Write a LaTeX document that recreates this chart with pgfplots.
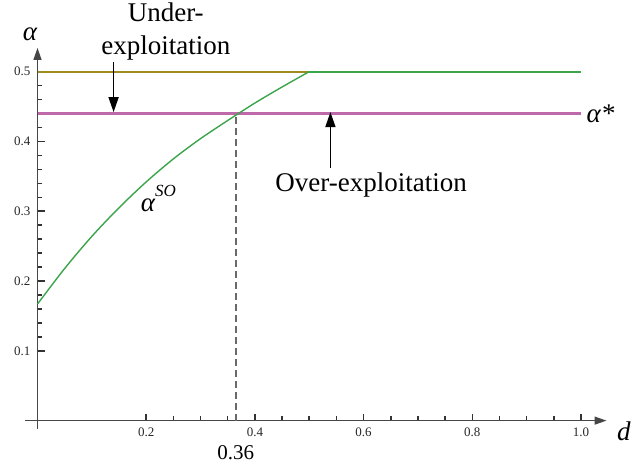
\documentclass[border=0pt]{standalone}
\usepackage{pgfplots}
\pgfplotsset{compat=1.18}
\usepackage{fontspec}
\setmainfont{Liberation Serif}
\usetikzlibrary{arrows.meta}
\definecolor{lineOlive}{RGB}{160,140,30}
\definecolor{linePink}{RGB}{190,105,170}
\definecolor{lineGreen}{RGB}{60,165,75}
\definecolor{axisgray}{RGB}{70,70,70}
\definecolor{dashgray}{RGB}{105,105,105}
\begin{document}
\begin{tikzpicture}
\useasboundingbox (-25pt,-38pt) rectangle (606pt,429pt);
\begin{axis}[
 at={(0pt,0pt)}, anchor=south west,
 scale only axis, width=581.5pt, height=381.1pt,
 axis lines=middle,
 xmin=-0.023, xmax=1.047, ymin=-0.012, ymax=0.534,
 axis line style={axisgray, line width=1.2pt},
 x axis line style={-{Triangle[length=12pt,width=8pt]}},
 y axis line style={-{Triangle[length=12pt,width=8pt]}},
 xtick={0.2,0.4,0.6,0.8,1.0},
 ytick={0.1,0.2,0.3,0.4,0.5},
 minor x tick num=3, minor y tick num=4,
 tick align=center,
 major tick length=7pt, minor tick length=4.5pt,
 every tick/.style={draw=black!80, line width=1.5pt},
 every major x tick/.append style={yshift=3.5pt},
 every minor x tick/.append style={yshift=2.25pt},
 every major y tick/.append style={xshift=3.5pt},
 every minor y tick/.append style={xshift=2.25pt},
 /pgf/number format/assume math mode=true,
 /pgf/number format/fixed, /pgf/number format/fixed zerofill, /pgf/number format/precision=1,
 ticklabel style={font=\fontsize{13}{13}\selectfont, text=black!85},
 clip=false,
]
\addplot[color=lineOlive, line width=2pt] coordinates {(0,0.5) (0.5,0.5)};
\addplot[color=linePink, line width=2.1pt] coordinates {(0,0.44) (1,0.44)};
\addplot[color=lineGreen, line width=1.4pt, smooth] coordinates {
 (0,0.167) (0.05,0.218) (0.1,0.264) (0.15,0.305) (0.2,0.342) (0.25,0.375)
 (0.3,0.404) (0.35,0.430) (0.4,0.455) (0.45,0.478) (0.5,0.5)};
\addplot[color=lineGreen, line width=2pt] coordinates {(0.5,0.5) (1,0.5)};
\addplot[color=dashgray, line width=2pt, dash pattern=on 7pt off 4pt] coordinates {(0.366,0) (0.366,0.44)};
\node[align=center, font=\fontsize{27}{33}\selectfont] at (axis cs:0.236,0.558) {Under-\\exploitation};
\draw[black, line width=1.6pt, -{Triangle[length=15pt,width=10pt]}] (axis cs:0.14,0.514) -- (axis cs:0.14,0.442);
\draw[black, line width=1.6pt, -{Triangle[length=15pt,width=10pt]}] (axis cs:0.539,0.362) -- (axis cs:0.539,0.442);
\node[font=\fontsize{27}{27}\selectfont] at (axis cs:0.614,0.338) {Over-exploitation};
\node[anchor=west, inner sep=0pt, font=\fontsize{27}{27}\selectfont\itshape] at (axis cs:1.01,0.44) {α*};
\node[anchor=base west, inner sep=0pt, font=\fontsize{27}{27}\selectfont\itshape] at (axis cs:0.19,0.300) {α\raisebox{0.55em}{\fontsize{17}{17}\selectfont SO}};
\node[font=\fontsize{21}{21}\selectfont] at (axis cs:0.365,-0.046) {0.36};
\node[font=\fontsize{27}{27}\selectfont\itshape] at (axis cs:-0.014,0.554) {α};
\node[font=\fontsize{27}{27}\selectfont\itshape] at (axis cs:1.079,-0.015) {d};
\end{axis}
\end{tikzpicture}
\end{document}
